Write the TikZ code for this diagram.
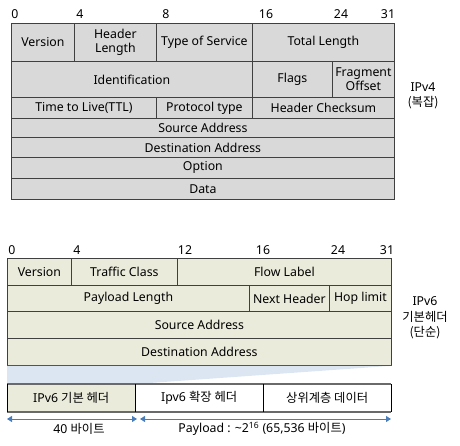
\documentclass[tikz,border=0pt]{standalone}
\usepackage{fontspec}
\setmainfont{Noto Sans}
\newfontfamily\kofont{Noto Sans CJK KR}
\usetikzlibrary{positioning, arrows.meta}
\definecolor{fourfill}{HTML}{D9D9D9}
\definecolor{sixfill}{HTML}{EBEBDC}
\definecolor{zoomblue}{HTML}{DCE6F2}
\definecolor{rulegray}{HTML}{404040}
\definecolor{bargray}{HTML}{6A6A6A}
\definecolor{spanblue}{HTML}{4A7EBB}

\begin{document}
\begin{tikzpicture}[
        x=1pt, y=-1pt,
        font=\fontsize{12.3}{13.5}\selectfont,
        field/.style={rectangle, draw=rulegray, line width=0.8pt, inner sep=0pt, anchor=north west, align=center},
        vfour/.style={field, fill=fourfill},
        vsix/.style={field, fill=sixfill},
        part/.style={rectangle, inner sep=0pt, anchor=north west, minimum height=28pt},
        bit/.style={inner sep=0pt},
        side/.style={align=center, font=\fontsize{12.3}{15.5}\selectfont},
        span/.style={draw=spanblue, line width=1pt, {Triangle[length=5pt,width=6pt]}-{Triangle[length=5pt,width=6pt]}}
    ]
    \useasboundingbox (0,0) rectangle (460,446);

    % IPv4 header
    \foreach \x/\b in {15/0, 80/4, 166/8, 266/16, 341/24, 388/31} {
        \node[bit] (fourbit\b) at (\x, 14) {\b};
    }
    \node[vfour, minimum width=63pt, minimum height=38pt] (ver4) at (11,23) {Version};
    \node[vfour, minimum width=82pt, minimum height=38pt] (hlen4) at (74,23) {Header\\Length};
    \node[vfour, minimum width=96pt, minimum height=38pt] (tos4) at (156,23) {Type of Service};
    \node[vfour, minimum width=142pt, minimum height=38pt] (tlen4) at (252,23) {Total Length};
    \node[vfour, minimum width=241pt, minimum height=36pt] (ident4) at (11,61) {Identification};
    \node[vfour, minimum width=80pt, minimum height=36pt] (flags4) at (252,61) {Flags};
    \node[vfour, minimum width=62pt, minimum height=36pt] (frag4) at (332,61) {Fragment\\Offset};
    \node[vfour, minimum width=145pt, minimum height=21pt] (ttl4) at (11,97) {Time to Live(TTL)};
    \node[vfour, minimum width=96pt, minimum height=21pt] (proto4) at (156,97) {Protocol type};
    \node[vfour, minimum width=142pt, minimum height=21pt] (csum4) at (252,97) {Header Checksum};
    \node[vfour, minimum width=383pt, minimum height=19pt] (src4) at (11,118) {Source Address};
    \node[vfour, minimum width=383pt, minimum height=20pt] (dst4) at (11,137) {Destination Address};
    \node[vfour, minimum width=383pt, minimum height=21pt] (opt4) at (11,157) {Option};
    \node[vfour, minimum width=383pt, minimum height=21pt] (data4) at (11,178) {Data};
    \node[side] (lab4) at (423,96) {IPv4\\{\kofont (복잡)}};

    % IPv6 header
    \foreach \x/\b in {12/0, 77/4, 185/12, 263/16, 338/24, 387/31} {
        \node[bit] (sixbit\b) at (\x, 250) {\b};
    }
    \node[vsix, minimum width=64pt, minimum height=27pt] (ver6) at (7,258) {Version};
    \node[vsix, minimum width=106pt, minimum height=27pt] (class6) at (71,258) {Traffic Class};
    \node[vsix, minimum width=214pt, minimum height=27pt] (flow6) at (177,258) {Flow Label};
    \node[vsix, minimum width=242pt, minimum height=26pt] (plen6) at (7,285) {Payload Length};
    \node[vsix, minimum width=80pt, minimum height=26pt] (next6) at (249,285) {Next Header};
    \node[vsix, minimum width=62pt, minimum height=26pt] (hop6) at (329,285) {Hop limit};
    \node[vsix, minimum width=384pt, minimum height=27pt] (src6) at (7,311) {Source Address};
    \node[vsix, minimum width=384pt, minimum height=27pt] (dst6) at (7,338) {Destination Address};
    \node[side] (lab6) at (425,318) {IPv6\\{\kofont 기본헤더}\\{\kofont (단순)}};

    % packet layout
    \node[part, fill=sixfill, minimum width=128pt] (base6) at (7,384) {IPv6 {\kofont 기본 헤더}};
    \node[part, minimum width=128pt] (ext6) at (135,384) {Ipv6 {\kofont 확장 헤더}};
    \node[part, minimum width=128pt, font=\kofont\fontsize{12.3}{13.5}\selectfont] (upper6) at (263,384) {상위계층 데이터};
    \fill[zoomblue] (dst6.south west) -- (dst6.south east) -- (base6.north east) -- (base6.north west) -- cycle;
    \draw[bargray, line width=2pt] (base6.north west) -- (upper6.north east);
    \draw[bargray, line width=2pt] (base6.south west) -- (upper6.south east);
    \draw[black, line width=0.8pt] (base6.north west) -- (base6.south west);
    \draw[black, line width=0.8pt] (ext6.north west) -- (ext6.south west);
    \draw[black, line width=0.8pt] (upper6.north west) -- (upper6.south west);
    \draw[black, line width=0.8pt] (upper6.north east) -- (upper6.south east);

    \coordinate (hdrL) at (7,419);
    \coordinate (hdrR) at (137,419);
    \coordinate (payL) at (140,419);
    \coordinate (payR) at (391,419);
    \draw[span] (hdrL) -- (hdrR);
    \draw[span] (payL) -- (payR);
    \node (hdrsize) at (79,429) {40 {\kofont 바이트}};
    \node (paysize) at (262,429) {Payload : \textasciitilde2\textsuperscript{16} (65,536 {\kofont 바이트})};
\end{tikzpicture}
\end{document}
